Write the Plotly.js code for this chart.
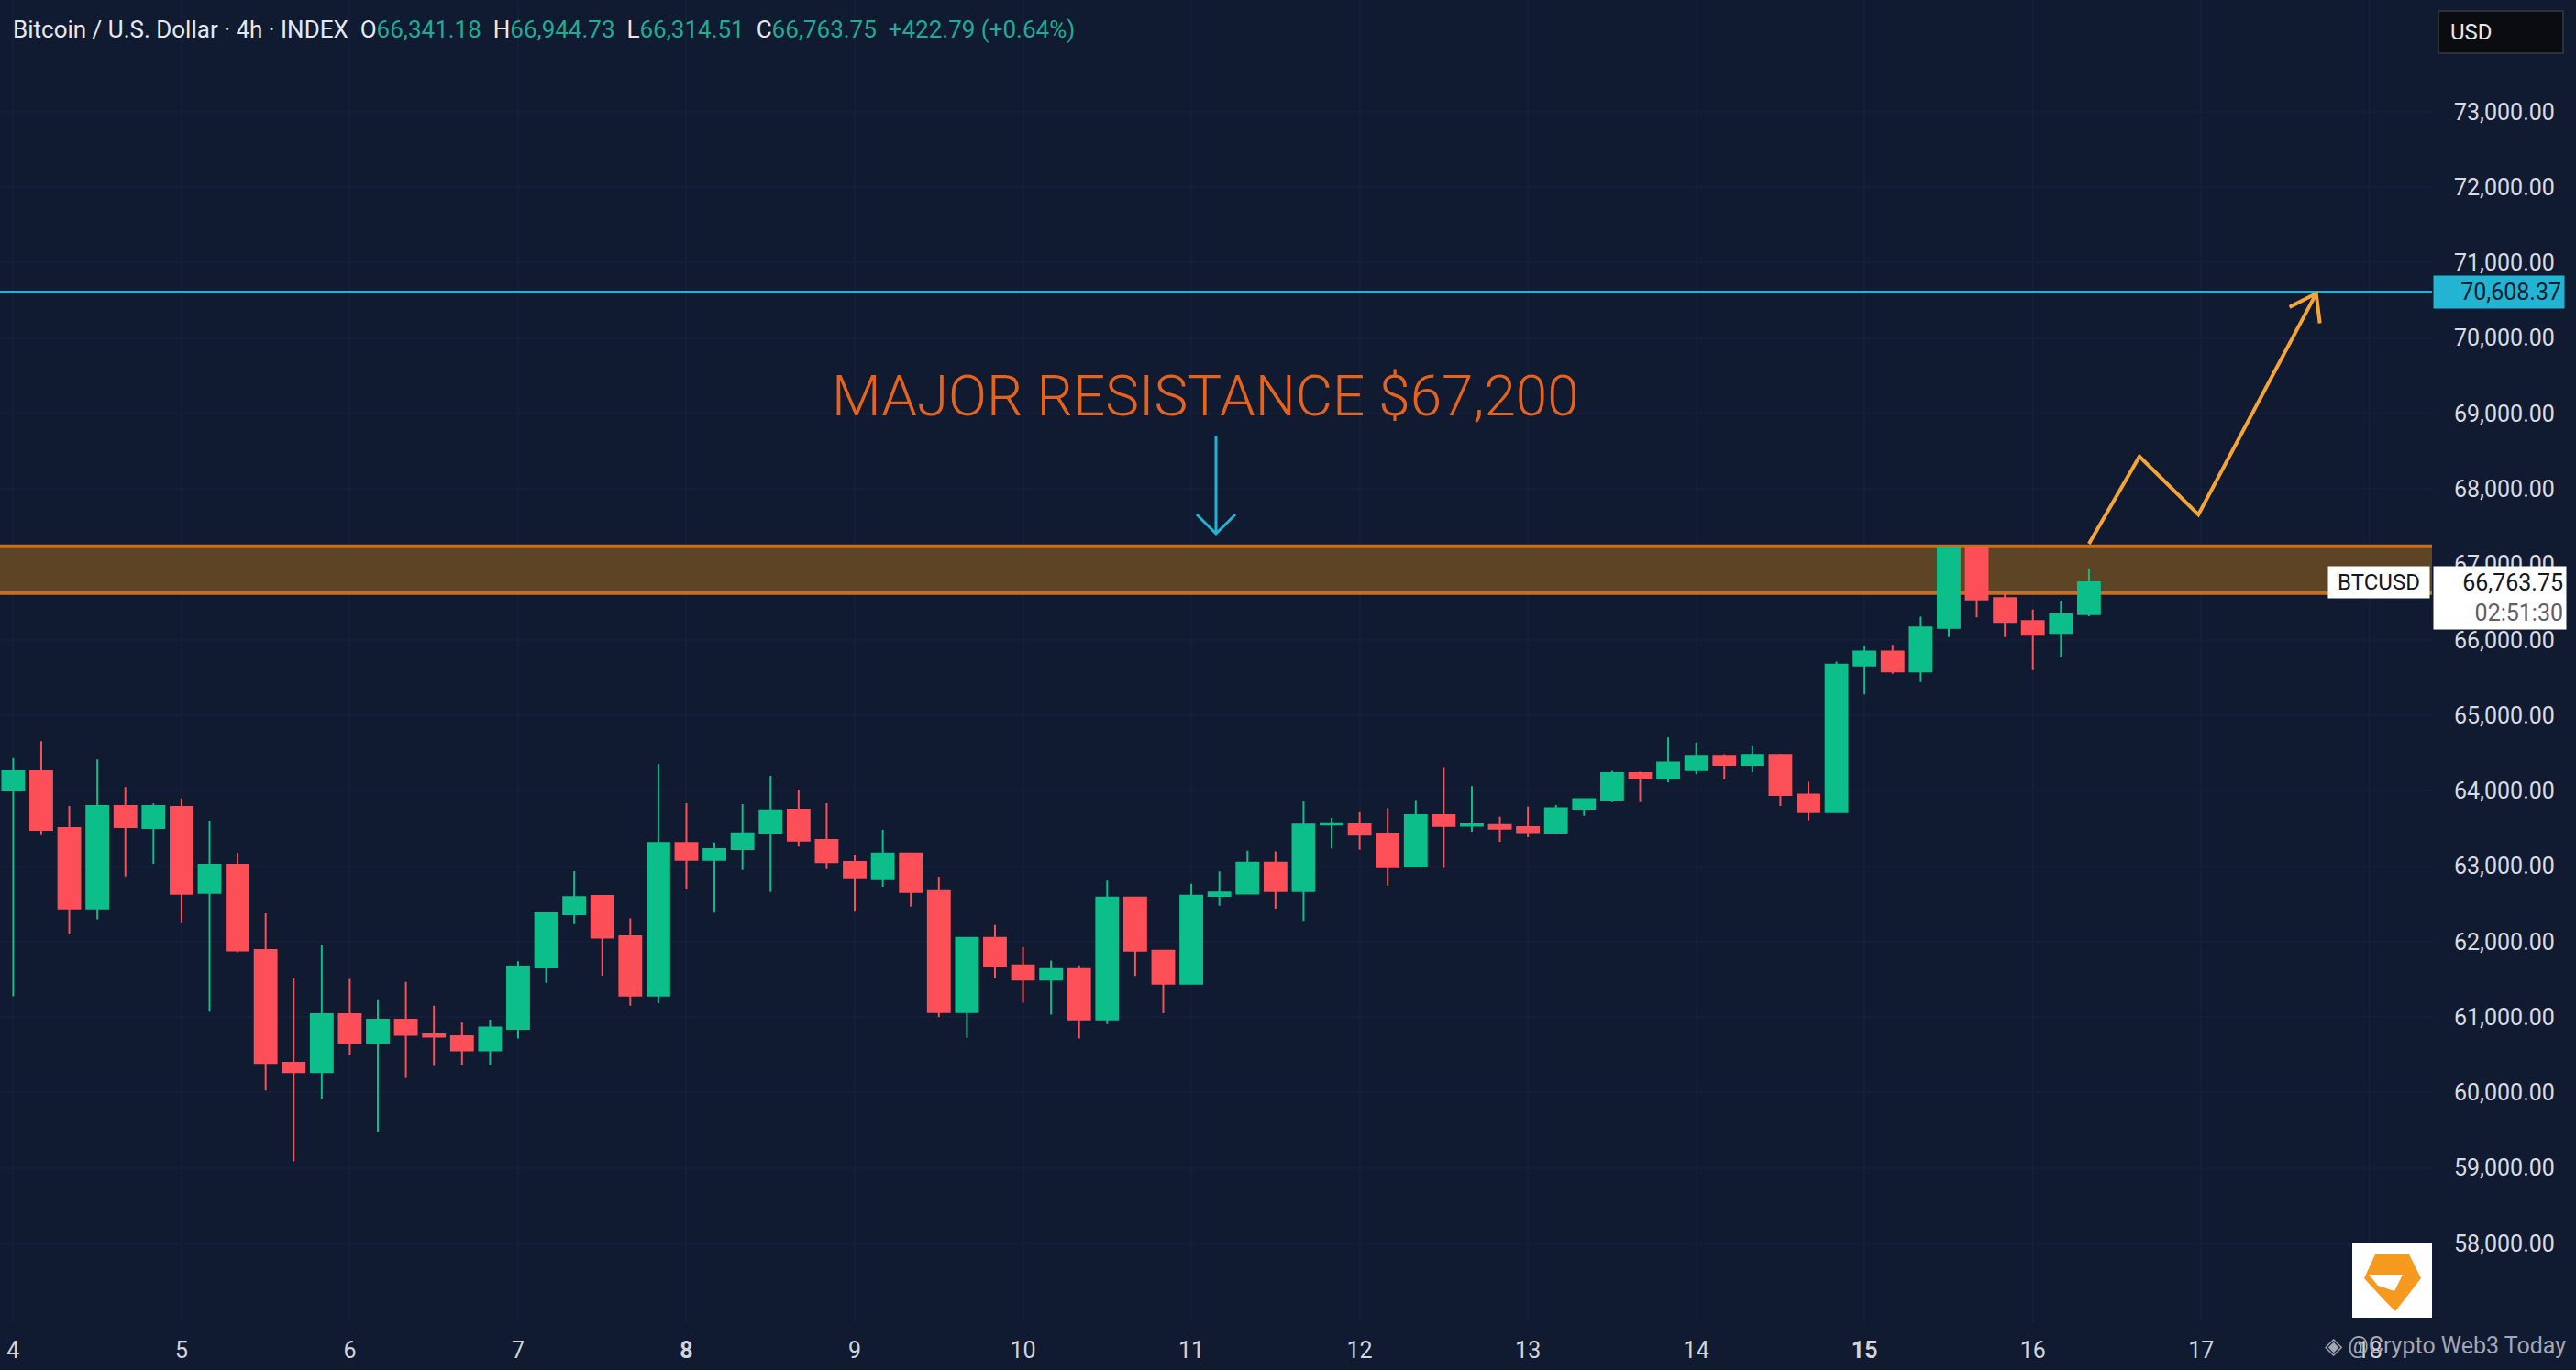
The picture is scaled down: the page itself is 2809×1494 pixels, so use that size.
<!DOCTYPE html>
<html>
<head>
<meta charset="utf-8">
<script src="https://cdn.plot.ly/plotly-3.0.1.min.js"></script>
<style>
html,body{margin:0;padding:0;background:#101a30;}
#chart{width:2809px;height:1494px;}
</style>
</head>
<body>
<div id="chart"></div>
<script>
// ---- data (4h candles, BTCUSD index) ----
const openP = [64004,64259,63506,62440,63797,63506,63785,62647,63020,61890,
  60395,60270,61039,60654,60966,60772,60747,60557,60845,61659,
  62363,62606,62072,61286,63307,63084,63226,63436,63748,63347,
  63056,62829,63169,62671,61067,62051,61687,61496,61638,60970,
  62586,61881,61444,62606,62638,63048,62671,63550,63558,63432,
  62994,63675,63537,63545,63517,63444,63760,63881,64234,64165,
  64274,64464,64343,64476,63950,63715,65659,65845,65582,66157,
  67222,66554,66250,66090,66341.18];
const highP = [64433,64656,63797,64413,64048,63830,63898,63603,63178,62376,
  61517,61962,61505,61237,61468,61152,60930,60966,61740,62388,
  62935,62619,62307,64352,63834,63315,63821,64198,64016,63833,
  63153,63481,63177,62861,62063,62221,61930,61748,61687,62809,
  62598,61889,62768,62930,63205,63197,63862,63639,63720,63768,
  63877,64315,64063,63654,63788,63808,63897,64266,64254,64707,
  64638,64485,64586,64489,64120,65712,65922,65934,66307,67230,
  67222,66623,66400,66520,66944.73];
const lowP = [61274,63412,62096,62295,62866,63032,62258,61072,61860,60027,
  59087,59917,60496,59472,60193,60363,60371,60371,60715,61456,
  62234,61549,61152,61185,62692,62383,62950,62659,63258,62963,
  62396,62728,62464,60998,60727,61517,61189,61031,60715,60909,
  61545,61051,61444,62476,62638,62436,62274,63234,63218,62743,
  62994,62978,63456,63322,63383,63424,63666,63849,63849,64112,
  64221,64152,64246,63796,63606,63715,65278,65550,65440,66036,
  66299,66036,65600,65778,66314.51];
const closeP = [64259,63481,62440,63797,63518,63797,62635,63020,61882,60391,
  60270,61039,60654,60966,60764,60740,60557,60861,61671,62376,
  62590,62052,61286,63307,63084,63226,63436,63740,63339,63052,
  62841,63169,62659,61067,62051,61675,61496,61638,60970,62586,
  61881,61444,62610,62651,63048,62671,63550,63570,63416,62986,
  63675,63533,63553,63496,63452,63768,63889,64234,64165,64375,
  64464,64343,64476,63942,63715,65671,65845,65582,66165,67222,
  66534,66238,66068,66340.96,66763.75];
const candleIndex = openP.map((_, i) => i);           // 4h bar number from day 4, 00:00

const dayTickBars = [0,6,12,18,24,30,36,42,48,54,60,66,72,78,84];
const dayTickLabels = ['4','5','6','7','<b>8</b>','9','10','11','12','13','14','<b>15</b>','16','17','18'];
const priceTicks = [58000,59000,60000,61000,62000,63000,64000,65000,66000,67000,68000,69000,70000,71000,72000,73000];

const resistanceZone = [66620, 67240];
const targetLevel = 70608.37;
const resistanceLabel = 'MAJOR RESISTANCE $67,200';
const labelBar = 42.5, labelPrice = 69232;
const downArrowBar = 42.88, downArrowPrices = [68707, 67407];
const projectionBars = [74, 75.8, 77.9, 82.1];
const projectionPrices = [67274, 68430, 67660, 70590];
const projectionHeadBars = [81.15, 82.1, 82.23];
const projectionHeadPrices = [70410, 70590, 70195];
const timerText = '02:51:30';

// ---- helpers ----
const xRange = [-0.47, 86.23];
const yRange = [56955, 74480];
const fmt = v => v.toLocaleString('en-US', {minimumFractionDigits: 2, maximumFractionDigits: 2});
const PW = 2652, PH = 1442;
const pxX = p => p / PW;
const pxY = p => 1 - p / PH;

const n = closeP.length;
const lastO = openP[n-1], lastH = highP[n-1], lastL = lowP[n-1], lastC = closeP[n-1];
const chg = lastC - closeP[n-2];
const chgPct = chg / closeP[n-2] * 100;
const G = '#22ab94';
const headerText = 'Bitcoin / U.S. Dollar · 4h · INDEX&nbsp;&nbsp;' +
  'O<span style="color:' + G + '">' + fmt(lastO) + '</span>&nbsp;&nbsp;' +
  'H<span style="color:' + G + '">' + fmt(lastH) + '</span>&nbsp;&nbsp;' +
  'L<span style="color:' + G + '">' + fmt(lastL) + '</span>&nbsp;&nbsp;' +
  'C<span style="color:' + G + '">' + fmt(lastC) + '</span>&nbsp;&nbsp;' +
  '<span style="color:' + G + '">' + (chg >= 0 ? '+' : '') + fmt(chg) + ' (' + (chg >= 0 ? '+' : '') + chgPct.toFixed(2) + '%)</span>';

const GREEN = '#0cbf8a', RED = '#fd4f57';

const trace = {
  type: 'candlestick',
  x: candleIndex, open: openP, high: highP, low: lowP, close: closeP,
  increasing: {line: {color: GREEN, width: 2}, fillcolor: GREEN},
  decreasing: {line: {color: RED, width: 2}, fillcolor: RED},
  whiskerwidth: 0,
  hoverinfo: 'skip',
  showlegend: false
};

const pathFrom = (xs, ys) => xs.map((x, i) => (i ? 'L' : 'M') + x + ',' + ys[i]).join(' ');
const ORANGE_ARROW = '#f5a535';
const CYAN = '#22b4d2';

const shapes = [
  // resistance zone (drawn over the grid, under the candles; runs past both plot edges)
  {type: 'rect', xref: 'x', x0: xRange[0] - 2, x1: xRange[1] + 2, yref: 'y', y0: resistanceZone[0], y1: resistanceZone[1],
   fillcolor: '#5d4424', line: {color: '#c96d1f', width: 4}, layer: 'between'},
  // target line
  {type: 'line', xref: 'paper', x0: 0, x1: 1, yref: 'y', y0: targetLevel, y1: targetLevel,
   line: {color: CYAN, width: 3}, layer: 'above'},
  // down arrow
  {type: 'path', xref: 'x', yref: 'y',
   path: 'M' + downArrowBar + ',' + downArrowPrices[0] + ' L' + downArrowBar + ',' + downArrowPrices[1] +
         ' M' + (downArrowBar - 0.69) + ',' + (downArrowPrices[1] + 255) + ' L' + downArrowBar + ',' + downArrowPrices[1] +
         ' L' + (downArrowBar + 0.69) + ',' + (downArrowPrices[1] + 255),
   line: {color: CYAN, width: 3}},
  // projection zig-zag
  {type: 'path', xref: 'x', yref: 'y', path: pathFrom(projectionBars, projectionPrices),
   line: {color: ORANGE_ARROW, width: 4}},
  {type: 'path', xref: 'x', yref: 'y', path: pathFrom(projectionHeadBars, projectionHeadPrices),
   line: {color: ORANGE_ARROW, width: 4}},
  // logo box
  {type: 'rect', xref: 'paper', yref: 'paper', x0: pxX(2565), x1: pxX(2652), y0: pxY(1437), y1: pxY(1356),
   fillcolor: '#ffffff', line: {width: 0}, layer: 'above'},
  {type: 'path', xref: 'paper', yref: 'paper',
   path: 'M' + pxX(2590) + ',' + pxY(1368) + ' L' + pxX(2627) + ',' + pxY(1368) + ' L' + pxX(2640) + ',' + pxY(1394) +
         ' L' + pxX(2612) + ',' + pxY(1430) + ' L' + pxX(2600) + ',' + pxY(1418) + ' L' + pxX(2578) + ',' + pxY(1394) + ' Z',
   fillcolor: '#f59a1e', line: {width: 0}, layer: 'above'},
  {type: 'path', xref: 'paper', yref: 'paper',
   path: 'M' + pxX(2583) + ',' + pxY(1390) + ' L' + pxX(2620) + ',' + pxY(1390) + ' L' + pxX(2611) + ',' + pxY(1408) +
         ' L' + pxX(2593) + ',' + pxY(1402) + ' Z',
   fillcolor: '#ffffff', line: {width: 0}, layer: 'above'}
];

const annotations = [
  {xref: 'paper', yref: 'paper', x: 0, y: 1, xanchor: 'left', yanchor: 'middle', xshift: 12, yshift: -32,
   text: headerText, showarrow: false, font: {family: 'Roboto', size: 26, color: '#e6e8ee'}},
  {xref: 'x', yref: 'y', x: labelBar, y: labelPrice, text: resistanceLabel, showarrow: false,
   font: {family: 'Roboto', size: 62, weight: 300, color: '#e5631c'}},
  // target price tag
  {xref: 'paper', yref: 'y', x: 1, y: targetLevel, xanchor: 'left', yanchor: 'middle', xshift: 1,
   text: fmt(targetLevel), showarrow: false, bgcolor: CYAN, borderpad: 3, width: 136, align: 'right',
   font: {family: 'Roboto', size: 25, color: '#102030'}},
  // symbol tag
  {xref: 'paper', yref: 'y', x: 1, y: lastC, xanchor: 'right', yanchor: 'middle', xshift: -2,
   text: 'BTCUSD', showarrow: false, bgcolor: '#ffffff', borderpad: 3, width: 104,
   font: {family: 'Roboto', size: 24, color: '#131722'}},
  // last price tag
  {xref: 'paper', yref: 'y', x: 1, y: lastC, xanchor: 'left', yanchor: 'top', xshift: 1, yshift: 18,
   text: fmt(lastC) + '<br><span style="color:#5d606b">' + timerText + '</span>', showarrow: false,
   bgcolor: '#ffffff', borderpad: 3, width: 138, align: 'right',
   font: {family: 'Roboto', size: 25, color: '#131722'}},
  // currency button
  {xref: 'paper', yref: 'paper', x: 1, y: 1, xanchor: 'left', yanchor: 'top', xshift: 6, yshift: -11,
   text: '&nbsp;USD', showarrow: false, bgcolor: '#0b0c10', bordercolor: '#2c303b', borderwidth: 2,
   borderpad: 6, width: 122, height: 32, align: 'left',
   font: {family: 'Roboto', size: 24, color: '#e6e8ee'}},
  // watermark
  {xref: 'paper', yref: 'paper', x: pxX(2800), y: 0, xanchor: 'right', yanchor: 'middle', yshift: -25,
   text: '◈ @Crypto Web3 Today', showarrow: false,
   font: {family: 'Roboto', size: 25, color: '#a3a7b3'}}
];

const layout = {
  width: 2809, height: 1494,
  margin: {l: 0, r: 157, t: 0, b: 52, pad: 0},
  paper_bgcolor: '#101a30', plot_bgcolor: '#101a30',
  showlegend: false,
  boxgap: 0.22, boxgroupgap: 0,
  xaxis: {
    range: xRange, rangeslider: {visible: false},
    tickmode: 'array', tickvals: dayTickBars, ticktext: dayTickLabels,
    ticks: 'outside', ticklen: 8, tickcolor: 'rgba(0,0,0,0)',
    tickfont: {family: 'Roboto', size: 25, color: '#d1d4dc'},
    showgrid: true, gridcolor: '#141f37', gridwidth: 2, zeroline: false, showline: false, fixedrange: true
  },
  yaxis: {
    side: 'right', range: yRange,
    tickmode: 'array', tickvals: priceTicks, ticktext: priceTicks.map(fmt),
    ticks: 'outside', ticklen: 18, tickcolor: 'rgba(0,0,0,0)',
    tickfont: {family: 'Roboto', size: 25, color: '#d9dbe2'},
    showgrid: true, gridcolor: '#141f37', gridwidth: 2, zeroline: false, showline: false, fixedrange: true
  },
  shapes: shapes,
  annotations: annotations
};

Plotly.newPlot('chart', [trace], layout, {staticPlot: true, displayModeBar: false});
</script>
</body>
</html>
